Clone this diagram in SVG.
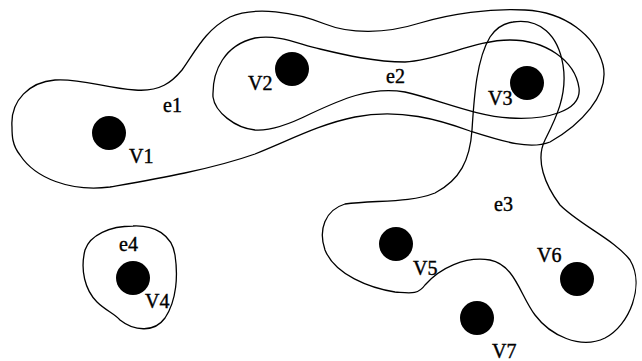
<svg xmlns="http://www.w3.org/2000/svg" width="642" height="361" viewBox="0 0 642 361">
<style>
.edge{fill:none;stroke:#000;stroke-width:1.3}
.v{fill:#000}
.t{font-family:"Liberation Serif","Times New Roman",serif;font-size:20px;fill:#000;stroke:#000;stroke-width:0.4}
</style>
<rect width="642" height="361" fill="#fff"/>
<g id="hyperedges">
<path id="e1-curve" class="edge" d="M 12,127 C 10,100 30,82 55,80 C 80,78 105,88 135,90 C 160,92 172,82 182,70 C 195,52 205,30 230,17 C 255,6 295,12 325,24 C 350,34 385,34 420,23 C 450,14 490,8 525,10 C 565,12 595,35 603,65 C 610,95 580,125 550,142 C 530,150 505,142 470,131 C 440,120 400,108 355,117 C 320,124 290,140 255,154 C 210,170 150,180 110,187 C 70,192 35,178 20,155 C 12,145 12,135 12,127 Z"/>
<path id="e2-curve" class="edge" d="M 213,97 C 212,70 225,45 255,38 C 280,34 300,45 320,49 C 345,55 375,62 405,62 C 440,60 475,40 510,40 C 545,40 575,60 579,88 C 582,112 545,120 510,118 C 475,116 440,100 405,92 C 370,86 340,100 310,114 C 290,124 270,131 255,130 C 235,128 215,112 213,97 Z"/>
<path id="e3-curve" class="edge" d="M 513,22 C 540,18 558,35 563,65 C 568,95 555,120 545,140 C 535,160 545,185 560,205 C 580,225 615,240 630,260 C 645,285 630,325 605,338 C 580,350 550,335 535,315 C 520,295 515,265 490,260 C 465,256 440,268 425,285 C 418,295 410,293 395,292 C 370,288 335,275 325,250 C 318,230 325,210 345,204 C 375,200 410,203 435,193 C 460,180 470,160 472,130 C 474,100 476,60 490,37 C 496,28 505,23 513,22 Z"/>
<path id="e4-curve" class="edge" d="M 133,226 C 155,225 172,235 175,255 C 178,275 177,300 165,318 C 155,332 135,332 120,320 C 115,314 105,310 97,302 C 85,290 80,270 85,250 C 90,235 110,226 133,226 Z"/>
</g>
<g id="edge-labels">
<text class="t" x="163" y="112">e1</text>
<text class="t" x="386" y="83">e2</text>
<text class="t" x="494" y="211">e3</text>
<text class="t" x="119" y="251">e4</text>
</g>
<g id="V1"><circle class="v" cx="109" cy="133" r="17"/><text class="t" x="129" y="163">V1</text></g>
<g id="V2"><circle class="v" cx="292" cy="69" r="17"/><text class="t" x="248" y="90">V2</text></g>
<g id="V3"><circle class="v" cx="527" cy="83" r="17"/><text class="t" x="488" y="105">V3</text></g>
<g id="V4"><circle class="v" cx="133" cy="278" r="17"/><text class="t" x="145" y="308">V4</text></g>
<g id="V5"><circle class="v" cx="396" cy="244" r="17"/><text class="t" x="413" y="275">V5</text></g>
<g id="V6"><circle class="v" cx="577" cy="279" r="17"/><text class="t" x="537" y="262">V6</text></g>
<g id="V7"><circle class="v" cx="477" cy="318" r="17"/><text class="t" x="492" y="358">V7</text></g>
</svg>
